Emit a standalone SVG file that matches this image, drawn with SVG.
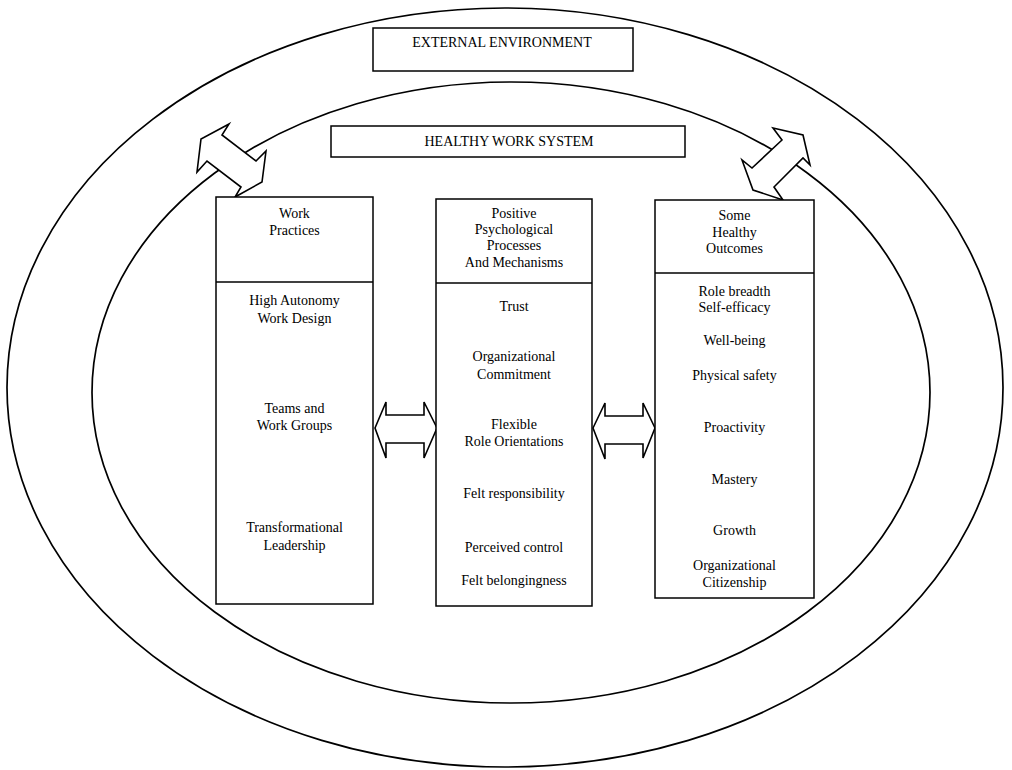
<svg xmlns="http://www.w3.org/2000/svg" width="1012" height="770" viewBox="0 0 1012 770">
<style>
.e{fill:none;stroke:#000;stroke-width:1.7}
.b{fill:#fff;stroke:#000;stroke-width:1.5}
.a{fill:#fff;stroke:#000;stroke-width:1.6;stroke-linejoin:miter}
text{font-family:"Liberation Serif","Times New Roman",serif;font-size:14px;fill:#000;text-anchor:middle}
</style>
<rect width="1012" height="770" fill="#fff"/>
<g id="environment">
<ellipse class="e" cx="505" cy="387.5" rx="498" ry="379.5"/>
<ellipse class="e" cx="511" cy="392.5" rx="419" ry="310.5"/>
</g>
<g id="external-label">
<rect class="b" x="373" y="28" width="260" height="43"/>
<text x="502" y="47">EXTERNAL ENVIRONMENT</text>
</g>
<g id="system-label">
<rect class="b" x="331" y="126" width="354" height="31"/>
<text x="509" y="146">HEALTHY WORK SYSTEM</text>
</g>
<g id="connectors">
<polygon class="a" points="229,124 201,139 197,172 207,161 241,187 235,197 262,182 266,151 256,161 222,135"/>
<polygon class="a" points="782,140 773,128 803,135 810,165 803,158 774,187 783,200 753,190 742,160 752,168"/>
<polygon class="a" points="375,428 386,402 386,415 424,415 424,402 437,428 424,458 424,443 386,443 386,458"/>
<polygon class="a" points="593,428 605,403 605,416 643,416 643,403 655,428 643,458 643,444 605,444 605,459"/>
</g>
<g id="work-practices">
<rect class="b" x="216" y="197" width="157" height="407"/>
<line class="b" x1="216" y1="282" x2="373" y2="282"/>
<text x="294.5" y="218">Work</text>
<text x="294.5" y="235">Practices</text>
<text x="294.5" y="305">High Autonomy</text>
<text x="294.5" y="323">Work Design</text>
<text x="294.5" y="413">Teams and</text>
<text x="294.5" y="430">Work Groups</text>
<text x="294.5" y="532">Transformational</text>
<text x="294.5" y="550">Leadership</text>
</g>
<g id="psychological-processes">
<rect class="b" x="436" y="199" width="156" height="407"/>
<line class="b" x1="436" y1="283" x2="592" y2="283"/>
<text x="514" y="218">Positive</text>
<text x="514" y="234">Psychological</text>
<text x="514" y="250">Processes</text>
<text x="514" y="267">And Mechanisms</text>
<text x="514" y="311">Trust</text>
<text x="514" y="361">Organizational</text>
<text x="514" y="379">Commitment</text>
<text x="514" y="429">Flexible</text>
<text x="514" y="446">Role Orientations</text>
<text x="514" y="498">Felt responsibility</text>
<text x="514" y="552">Perceived control</text>
<text x="514" y="585">Felt belongingness</text>
</g>
<g id="healthy-outcomes">
<rect class="b" x="655" y="200" width="159" height="398"/>
<line class="b" x1="655" y1="273" x2="814" y2="273"/>
<text x="734.5" y="220">Some</text>
<text x="734.5" y="237">Healthy</text>
<text x="734.5" y="253">Outcomes</text>
<text x="734.5" y="296">Role breadth</text>
<text x="734.5" y="312">Self-efficacy</text>
<text x="734.5" y="345">Well-being</text>
<text x="734.5" y="380">Physical safety</text>
<text x="734.5" y="432">Proactivity</text>
<text x="734.5" y="484">Mastery</text>
<text x="734.5" y="535">Growth</text>
<text x="734.5" y="570">Organizational</text>
<text x="734.5" y="587">Citizenship</text>
</g>
</svg>
